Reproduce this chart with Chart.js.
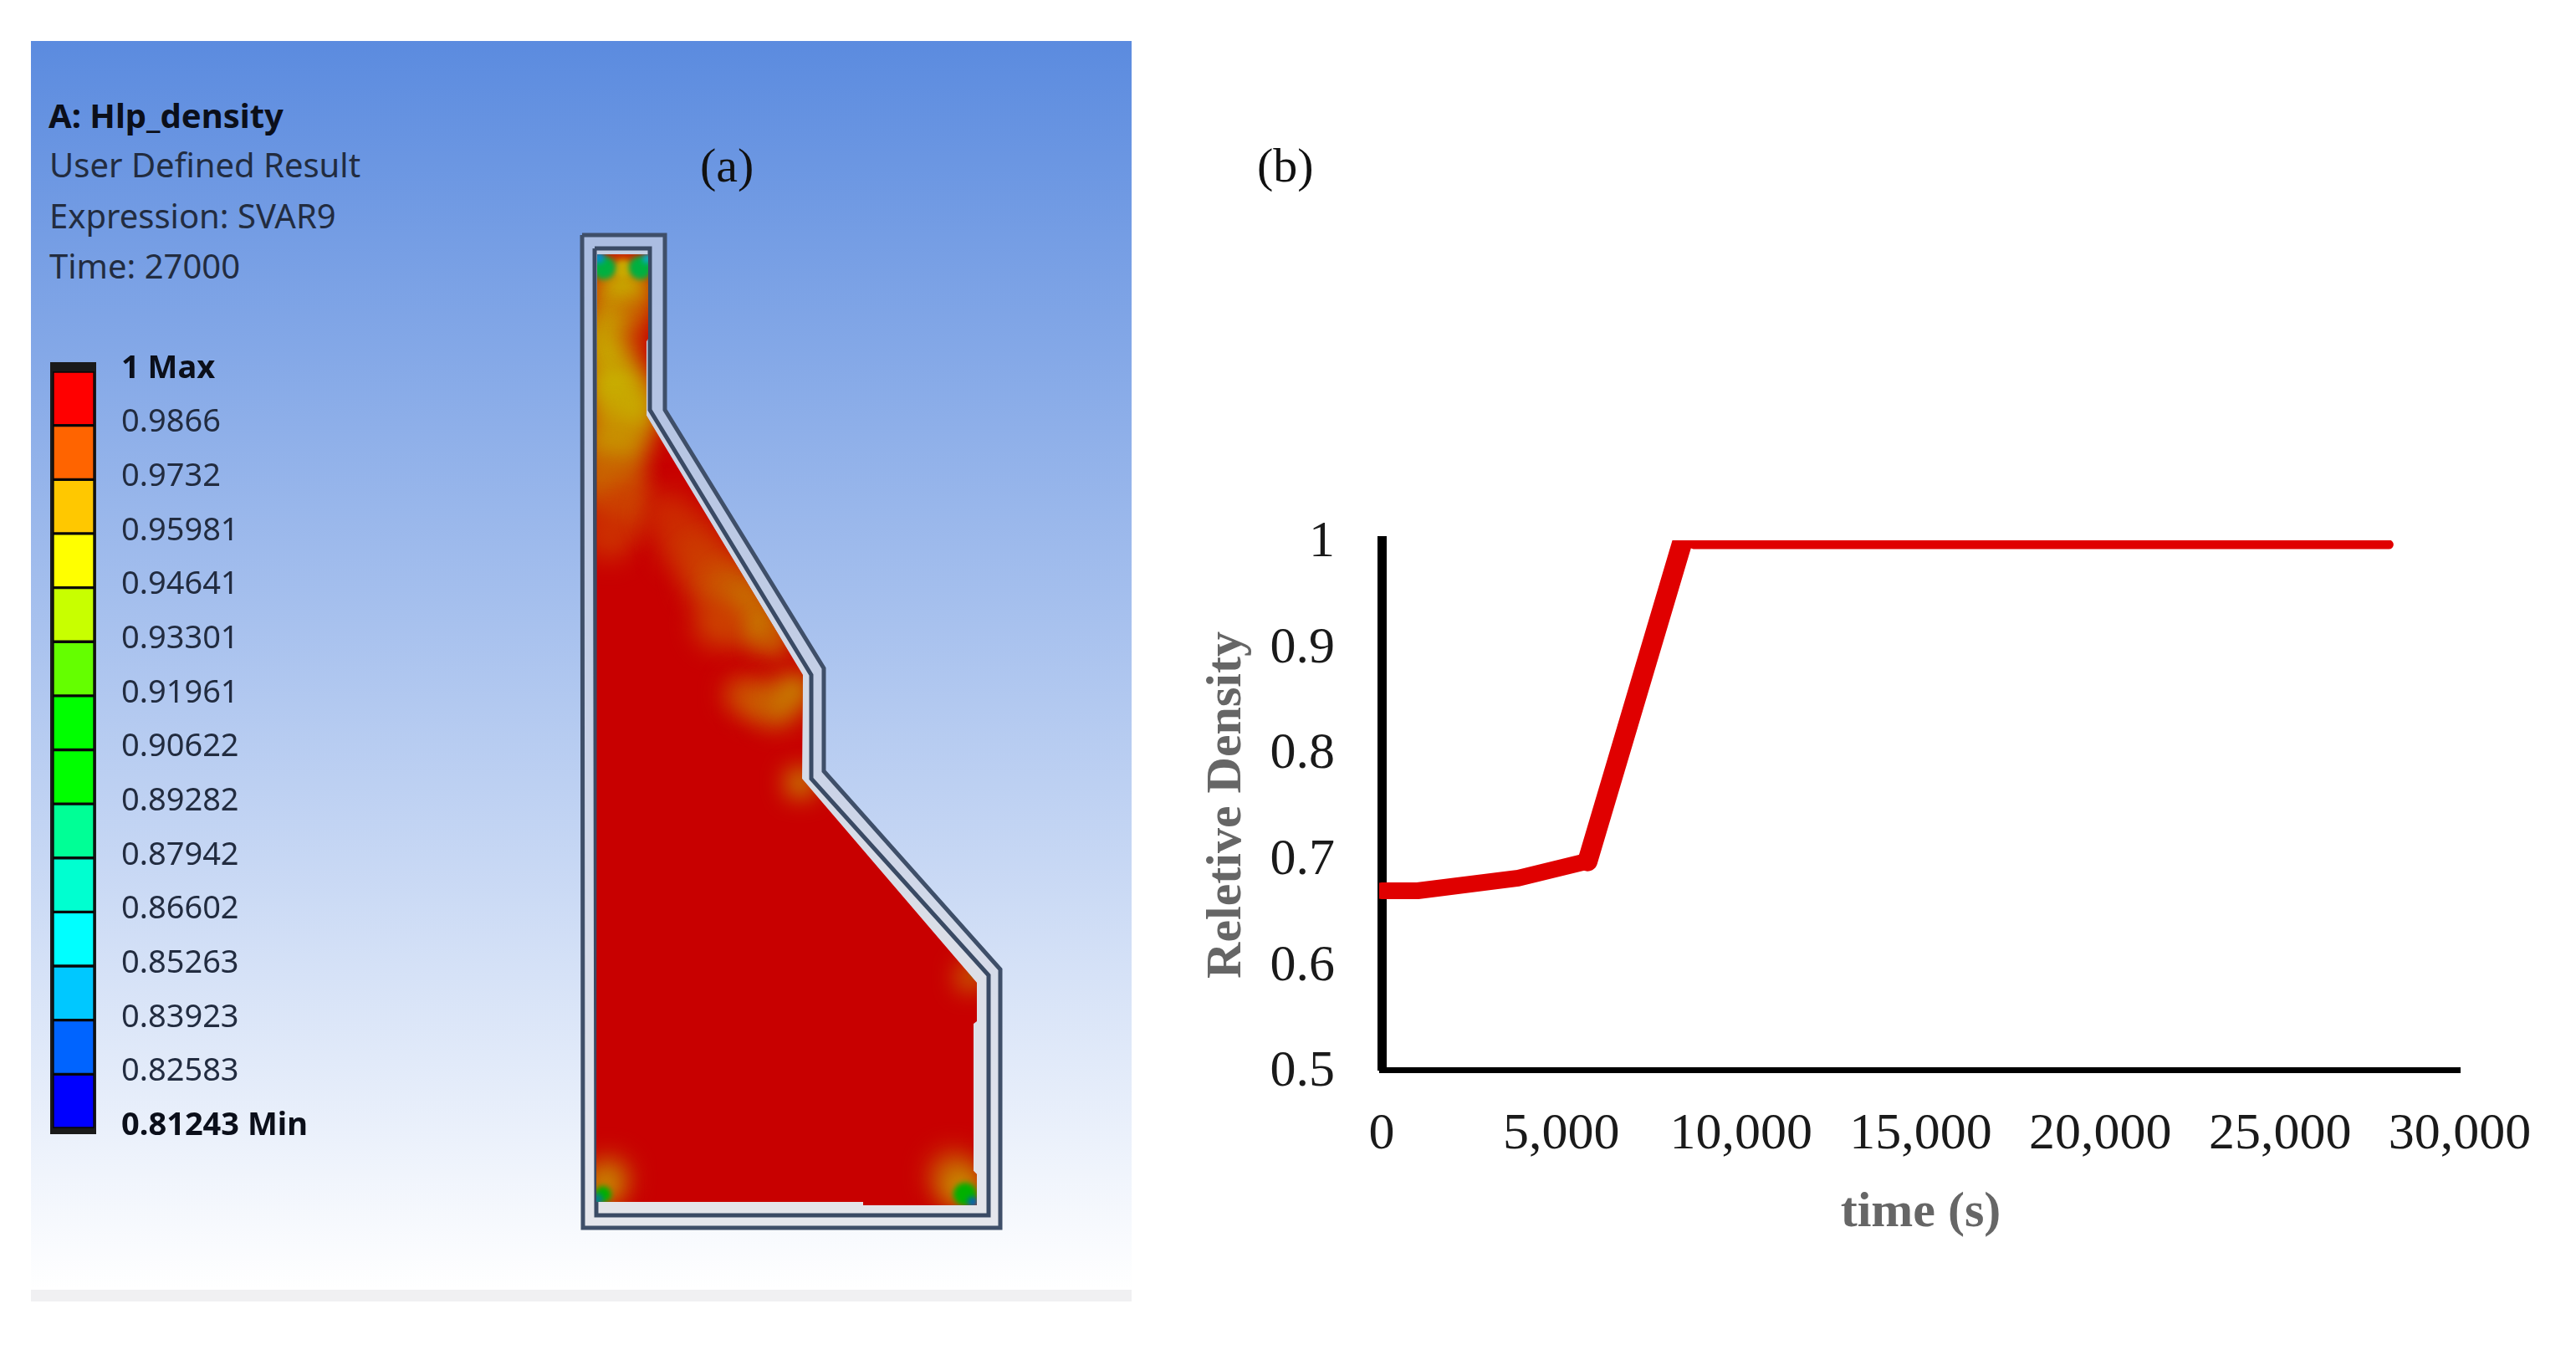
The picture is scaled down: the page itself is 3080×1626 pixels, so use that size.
<!DOCTYPE html>
<html lang="en">

<head>
    <meta charset="utf-8">
    <title>Relative density result</title>
    <style>
        html, body {
            margin: 0;
            width: 3080px;
            height: 1626px;
            background: #fff;
            overflow: hidden;
        }

        canvas, .panel, .strip, .cap, .txt {
            position: absolute;
        }

        .panel {
            left: 37px;
            top: 49px;
            width: 1316px;
            height: 1493px;
            background: linear-gradient(#5b8bdf, #fff);
        }

        .strip {
            left: 37px;
            top: 1542px;
            width: 1316px;
            height: 14px;
            background: #f0f0f2;
        }

        .cap {
            left: 60px;
            top: 433px;
            width: 55px;
            height: 923px;
            background: #1a1a1a;
        }

        .txt {
            font-family: "Noto Sans", sans-serif;
            font-size: 40px;
            color: #222c40;
            white-space: nowrap;
            line-height: 1;
        }

        .tag {
            font-family: "Liberation Serif", serif;
            font-size: 58px;
            color: #111;
        }
    </style>
</head>

<body>
    <div class="panel"></div>
    <div class="strip"></div>
    <div class="cap"></div>

    <div class="txt" style="left:58px;top:118px;font-weight:700;color:#0b0f1a">A: Hlp_density</div>
    <div class="txt" style="left:59px;top:177px">User Defined Result</div>
    <div class="txt" style="left:59px;top:238px">Expression: SVAR9</div>
    <div class="txt" style="left:59px;top:298px">Time: 27000</div>
    <div class="txt tag" style="left:837px;top:169px">(a)</div>
    <div class="txt tag" style="left:1503px;top:169px">(b)</div>

    <canvas id="fieldChart" width="1316" height="1493" style="left:37px;top:49px"></canvas>
    <canvas id="barChart" width="700" height="1626" style="left:0;top:0"></canvas>
    <canvas id="densityChart" width="3080" height="1626" style="left:0;top:0"></canvas>

    <script src="https://cdn.jsdelivr.net/npm/chart.js@4.4.1/dist/chart.umd.min.js"></script>
    <script>
        // (b) curve
        const timeSeconds = [0, 1000, 3800, 5730, 8380, 8700, 28030];
        const relDensity = [0.669, 0.669, 0.681, 0.697, 1.0, 0.996, 0.996];

        // (a) legend, top to bottom
        const legendValues = [1, 0.9866, 0.9732, 0.95981, 0.94641, 0.93301, 0.91961, 0.90622, 0.89282, 0.87942, 0.86602, 0.85263, 0.83923, 0.82583, 0.81243];
        const legendLabels = ["1 Max", "0.9866", "0.9732", "0.95981", "0.94641", "0.93301", "0.91961", "0.90622", "0.89282", "0.87942", "0.86602", "0.85263", "0.83923", "0.82583", "0.81243 Min"];
        const bandColors = ["#ff0000", "#ff6400", "#ffc800", "#ffff00", "#c8ff00", "#64ff00", "#00ff00", "#00ff00", "#00ff96", "#00ffd0", "#00ffff", "#00c8ff", "#0064ff", "#0000ff"];

        // (a) section outlines
        const outerWall = [[696, 281], [795, 281], [795, 490], [985, 799], [985, 922], [1196, 1159], [1196, 1468], [697, 1468], [696, 281]];
        const innerWall = [[711, 297], [777, 297], [777, 490], [970, 807], [970, 931], [1182, 1166], [1182, 1453], [713, 1453], [711, 297]];
        const bodyEdge = [[714, 304], [775, 304], [775, 405], [773, 408], [773, 497], [960, 807], [959, 931], [1168, 1175], [1168, 1221], [1164, 1224], [1164, 1400], [1168, 1404], [1168, 1441], [1032, 1441], [1032, 1437], [713, 1437], [714, 304]];

        // (a) contour patches: x, y, radius, colour
        const softPatches = [
            [745, 345, 34, "#c8b000"], [735, 380, 28, "#c89400"], [720, 400, 22, "#c8a000"], [760, 372, 14, "#cc5000"],
            [730, 420, 30, "#c8a800"], [735, 460, 36, "#c8b000"], [750, 490, 38, "#c8ac00"],
            [735, 530, 38, "#c89400"], [730, 575, 36, "#c86c00"], [745, 605, 34, "#cc4400"],
            [728, 640, 30, "#cc3000"], [760, 405, 12, "#cc1000"],
            [800, 615, 28, "#cc2800"], [825, 650, 36, "#cc3400"], [855, 690, 38, "#cc4800"],
            [885, 715, 32, "#c86c00"], [905, 745, 28, "#c87c00"], [860, 745, 30, "#cc4000"],
            [925, 765, 18, "#c87000"],
            [885, 830, 18, "#cc5400"], [905, 838, 22, "#cc6400"], [930, 845, 24, "#c87000"],
            [950, 825, 18, "#c8a800"], [957, 936, 16, "#c8b400"], [1160, 1168, 14, "#c8a000"],
            [727, 1408, 26, "#c86000"], [722, 1420, 16, "#c8b000"],
            [1140, 1405, 30, "#c85000"], [1150, 1420, 22, "#c8a000"]
        ];
        const sharpPatches = [
            [745, 322, 11, "#c8a800"], [722, 320, 14, "#00b040"], [766, 320, 14, "#00b040"],
            [716, 308, 7, "#0090d0"], [774, 309, 6, "#00b0d0"],
            [721, 1428, 10, "#00b000"], [714, 1434, 7, "#008090"],
            [1154, 1428, 14, "#00b000"], [1163, 1437, 6, "#0060c0"], [1165, 1164, 3, "#00c000"]
        ];

        const toPoints = list => list.map(p => ({ x: p[0], y: p[1] }));

        // blurs the contour patches and keeps them inside the section
        const blurPlugin = {
            id: 'blurPlugin',
            beforeDatasetDraw(chart, args) {
                const ds = chart.data.datasets[args.index];
                if (!ds.blur) return;
                const { x, y } = chart.scales;
                const ctx = chart.ctx;
                ctx.save();
                ctx.beginPath();
                bodyEdge.forEach((p, i) => {
                    if (i === 0) ctx.moveTo(x.getPixelForValue(p[0]), y.getPixelForValue(p[1]));
                    else ctx.lineTo(x.getPixelForValue(p[0]), y.getPixelForValue(p[1]));
                });
                ctx.clip();
                ctx.filter = `blur(${ds.blur}px)`;
            },
            afterDatasetDraw(chart, args) {
                if (chart.data.datasets[args.index].blur) chart.ctx.restore();
            }
        };

        const patchDataset = (list, blur, order) => ({
            data: toPoints(list),
            showLine: false,
            blur: blur,
            order: order,
            clip: false,
            pointRadius: list.map(p => p[2]),
            pointBackgroundColor: list.map(p => p[3]),
            pointBorderWidth: 0
        });

        const outlineDataset = (list, fillColor, lineColor, width, order) => ({
            data: toPoints(list),
            showLine: true,
            fill: 'shape',
            backgroundColor: fillColor,
            borderColor: lineColor,
            borderWidth: width,
            borderJoinStyle: 'miter',
            pointRadius: 0,
            order: order,
            clip: false
        });

        const fieldChart = new Chart(document.getElementById('fieldChart'), {
            type: 'scatter',
            plugins: [blurPlugin],
            data: {
                datasets: [
                    outlineDataset(outerWall, 'rgba(215,215,222,0.55)', '#3f4f69', 5, 9),
                    outlineDataset(innerWall, 'rgba(225,225,230,0.5)', '#3a4a64', 5, 8),
                    outlineDataset(bodyEdge, '#c80000', 'rgba(0,0,0,0)', 0, 7),
                    patchDataset(softPatches, 15, 6),
                    patchDataset(sharpPatches, 3, 5)
                ]
            },
            options: {
                responsive: false,
                animation: false,
                devicePixelRatio: 1,
                layout: { padding: 0 },
                plugins: { legend: { display: false }, tooltip: { enabled: false } },
                scales: {
                    x: { type: 'linear', display: false, min: 37, max: 1353 },
                    y: { type: 'linear', display: false, min: 49, max: 1542, reverse: true }
                }
            }
        });

        // big points make the chart inset its area, so line the scales up with the page again
        const area = fieldChart.chartArea;
        fieldChart.options.scales.x.min = 37 + area.left;
        fieldChart.options.scales.x.max = 37 + area.right;
        fieldChart.options.scales.y.min = 49 + area.top;
        fieldChart.options.scales.y.max = 49 + area.bottom;
        fieldChart.update();

        new Chart(document.getElementById('barChart'), {
            type: 'bar',
            data: {
                labels: ['density'],
                datasets: bandColors.map((color, i) => ({
                    data: [[legendValues[i + 1], legendValues[i]]],
                    backgroundColor: color,
                    borderColor: 'rgba(0,0,0,0.65)',
                    borderWidth: 2,
                    borderSkipped: false,
                    grouped: false,
                    barPercentage: 1,
                    categoryPercentage: 1
                }))
            },
            options: {
                responsive: false,
                animation: false,
                devicePixelRatio: 1,
                layout: { padding: { left: 63, right: 187, top: 444, bottom: 277 } },
                plugins: { legend: { display: false }, tooltip: { enabled: false } },
                scales: {
                    x: { display: false },
                    y: {
                        position: 'right',
                        min: legendValues[legendValues.length - 1],
                        max: legendValues[0],
                        grid: { display: false, drawTicks: false },
                        border: { display: false },
                        afterFit: s => { s.width = 400; },
                        afterBuildTicks: s => { s.ticks = legendValues.slice().reverse().map(v => ({ value: v })); },
                        ticks: {
                            autoSkip: false,
                            padding: 32,
                            labelOffset: -3,
                            color: ctx => (ctx.index === 0 || ctx.index === legendValues.length - 1) ? '#0b0f1a' : '#222c40',
                            font: ctx => ({
                                family: '"Noto Sans", sans-serif',
                                size: 38,
                                weight: (ctx.index === 0 || ctx.index === legendValues.length - 1) ? '700' : '400'
                            }),
                            callback: (value, index) => legendLabels[legendValues.length - 1 - index]
                        }
                    }
                }
            }
        });

        const serif = '"Liberation Serif", serif';

        new Chart(document.getElementById('densityChart'), {
            type: 'scatter',
            data: {
                datasets: [{
                    data: timeSeconds.map((t, i) => ({ x: t, y: relDensity[i] })),
                    showLine: true,
                    borderColor: '#e00000',
                    borderWidth: 20,
                    borderCapStyle: 'round',
                    borderJoinStyle: 'round',
                    pointRadius: 0,
                    clip: { left: 3, top: 0, right: 10, bottom: 10 },
                    segment: {
                        borderWidth: ctx => ctx.p0.parsed.x >= 8380 ? 11 : (ctx.p0.parsed.x >= 5730 ? 24 : 20)
                    }
                }]
            },
            options: {
                responsive: false,
                animation: false,
                devicePixelRatio: 1,
                layout: { padding: { left: 1431, right: 139, top: 646, bottom: 140 } },
                plugins: { legend: { display: false }, tooltip: { enabled: false } },
                scales: {
                    x: {
                        type: 'linear',
                        min: 0,
                        max: 30000,
                        afterFit: s => { s.height = 207; },
                        grid: { display: false, drawTicks: false },
                        border: { color: '#000', width: 7 },
                        ticks: {
                            stepSize: 5000,
                            padding: 41,
                            color: '#1a1a1a',
                            maxRotation: 0,
                            font: { family: serif, size: 62 },
                            callback: v => v.toLocaleString('en-US')
                        },
                        title: {
                            display: true,
                            text: 'time (s)',
                            color: '#666',
                            padding: { top: 24, bottom: 0 },
                            font: { family: serif, size: 60, weight: '700' }
                        }
                    },
                    y: {
                        type: 'linear',
                        min: 0.5,
                        max: 1,
                        afterFit: s => { s.width = 221; },
                        grid: { display: false, drawTicks: false },
                        border: { color: '#000', width: 11 },
                        ticks: {
                            stepSize: 0.1,
                            padding: 56,
                            labelOffset: 3,
                            color: '#1a1a1a',
                            font: { family: serif, size: 62 },
                            callback: v => v === 1 ? '1' : v.toFixed(1)
                        },
                        title: {
                            display: true,
                            text: 'Reletive Density',
                            color: '#666',
                            padding: { top: 0, bottom: 15 },
                            font: { family: serif, size: 60, weight: '700' }
                        }
                    }
                }
            }
        });
    </script>
</body>

</html>
